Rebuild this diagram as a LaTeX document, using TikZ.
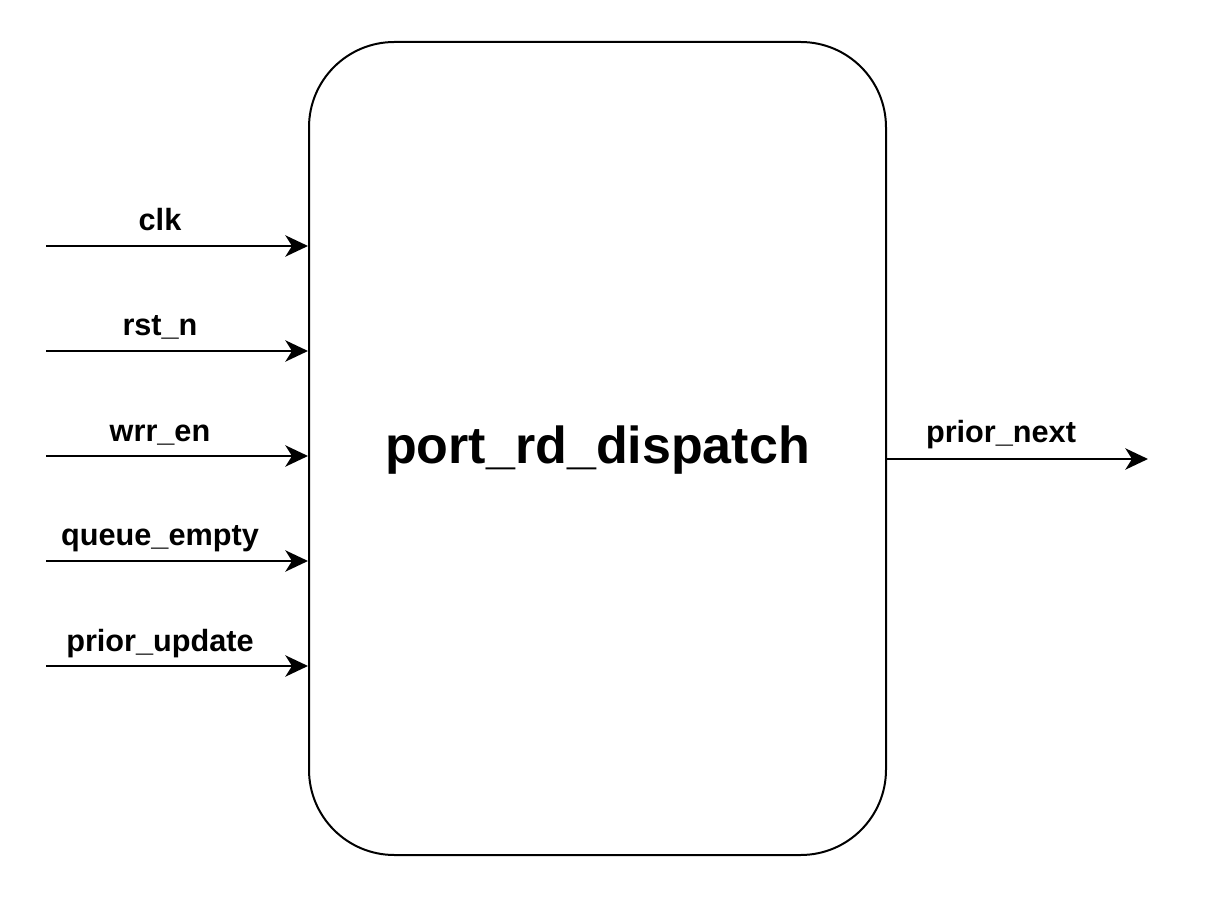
\documentclass[tikz,border=0pt]{standalone}
\usepackage{fontspec}
\setmainfont{Liberation Sans}
\usetikzlibrary{arrows.meta}

\tikzset{
    block/.style={draw, line width=1.5pt, rounded corners=64pt, minimum width=432.75pt, minimum height=609.75pt, inner sep=0pt, text depth=6pt, font=\fontsize{39}{46}\selectfont\bfseries},
    wire/.style={line width=1.5pt, -{Stealth[length=17pt, width=16pt, inset=5pt]}},
    pin/.style={inner sep=0pt, anchor=base, font=\fontsize{23}{27}\selectfont\bfseries}
}

\begin{document}
\begin{tikzpicture}[x=0.75pt, y=-0.75pt]
    \useasboundingbox (0,0) rectangle (1215,916);
    \node[block] (D) at (597.5,448.5) {port\_rd\_dispatch};
    \foreach \y/\name/\lab in {246/clk/clk, 351/rst/rst\_n, 456/wrr/wrr\_en, 561/empty/queue\_empty, 666/upd/prior\_update} {
        \coordinate (\name-in) at (46,\y);
        \draw[wire] (\name-in) -- (D.west |- \name-in);
        \node[pin] (\name-lab) at (160,\y-15) {\lab};
    }
    \coordinate (next-out) at (1148,459);
    \draw[wire] (D.east |- next-out) -- (next-out);
    \node[pin] (next-lab) at (1001,443) {prior\_next};
\end{tikzpicture}
\end{document}
